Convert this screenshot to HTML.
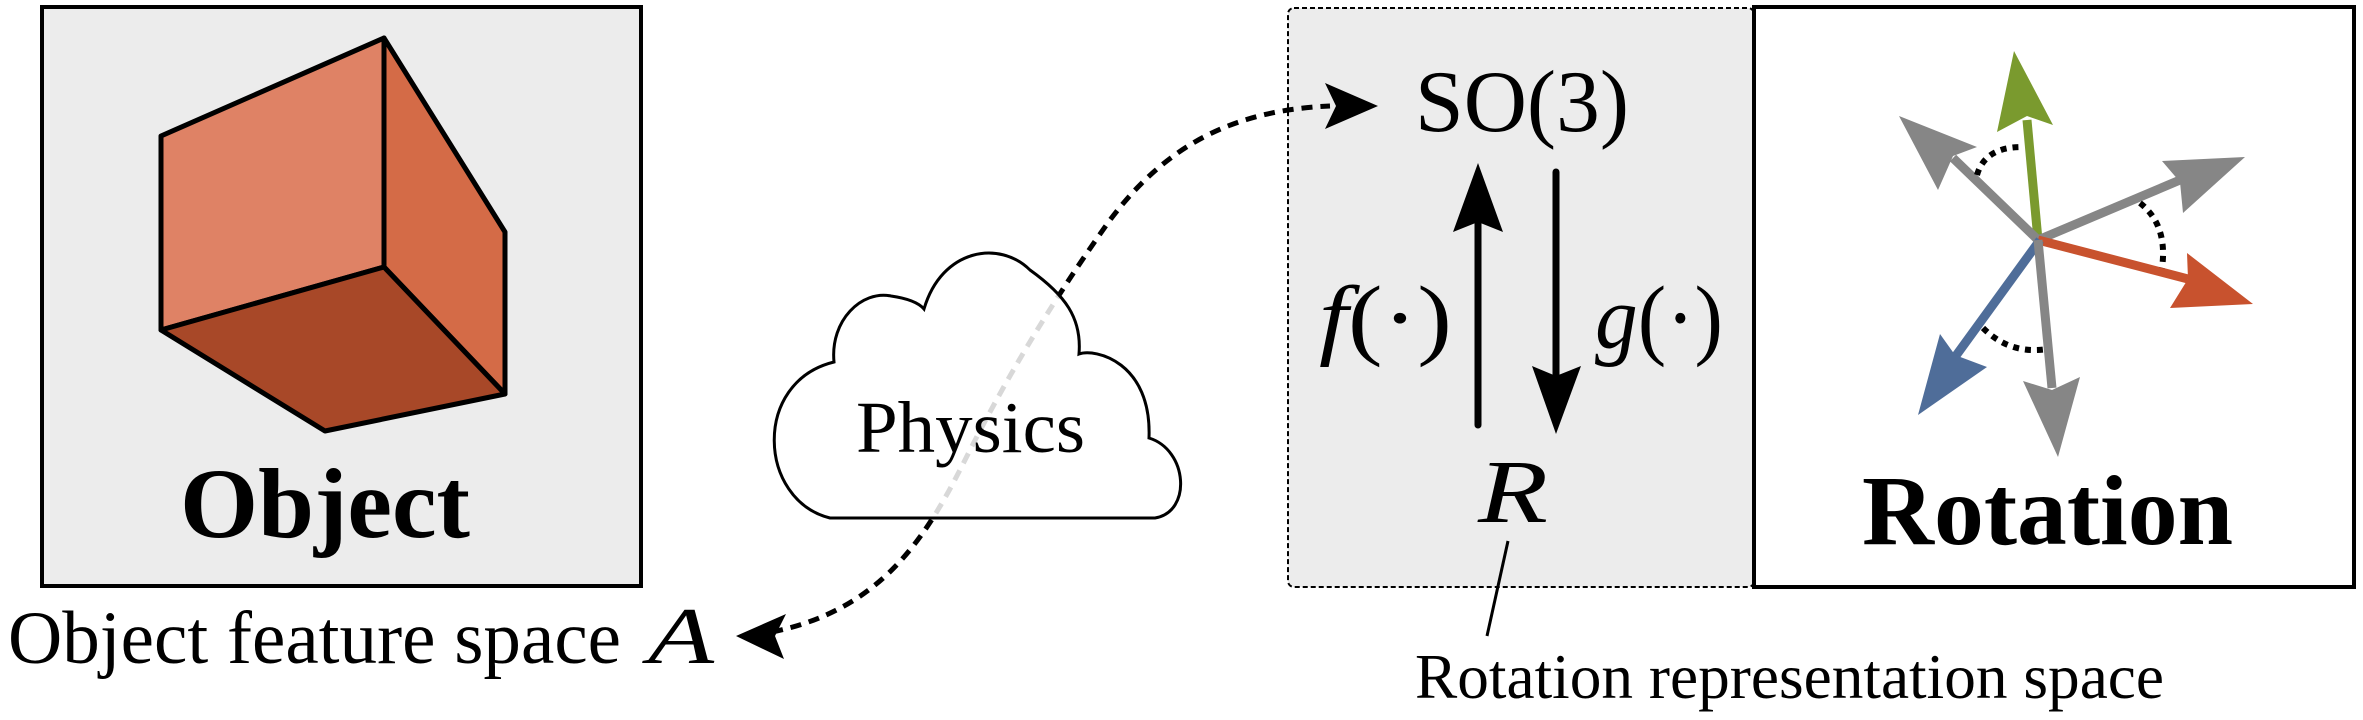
<!DOCTYPE html>
<html><head><meta charset="utf-8"><style>
html,body{margin:0;padding:0;background:#fff;}
svg{display:block}
text{font-family:"Liberation Serif","Times New Roman",Times,serif;}
</style></head><body>
<svg width="2363" height="720" viewBox="0 0 2363 720" xmlns="http://www.w3.org/2000/svg">
<defs>
<clipPath id="cc"><path id="cloudp" d="M830,518 C758,500 752,382 834,362 C830,320 862,290 891,296 C905,298 918,302 924,309 C942,248 1000,240 1030,270 C1065,295 1082,318 1079,354 C1095,348 1152,362 1149,438 C1188,450 1192,512 1155,518 Z"/></clipPath>
</defs>
<rect x="42" y="7" width="599" height="579" fill="#ececec" stroke="#000" stroke-width="4"/>
<polygon points="161,136 384,38 384,267 161,330" fill="#df8265" stroke="#000" stroke-width="5" stroke-linejoin="round"/>
<polygon points="384,38 505,232 505,394 384,267" fill="#d46b47" stroke="#000" stroke-width="5" stroke-linejoin="round"/>
<polygon points="161,330 384,267 505,394 325,431" fill="#a84828" stroke="#000" stroke-width="5" stroke-linejoin="round"/>
<text x="180" y="537" font-size="100" font-weight="bold" textLength="290" lengthAdjust="spacingAndGlyphs">Object</text>
<text x="8" y="663" font-size="75" textLength="613" lengthAdjust="spacingAndGlyphs">Object feature space</text>
<text x="648" y="663" font-size="80" font-style="italic" textLength="66" lengthAdjust="spacingAndGlyphs">A</text>

<rect x="1288" y="8" width="466" height="579" rx="6" fill="#ececec" stroke="#000" stroke-width="2" stroke-dasharray="5 3"/>
<rect x="1754" y="7" width="600" height="580" fill="#fff" stroke="#000" stroke-width="4"/>

<path d="M772,632 C880,610 925,540 965,460 C1010,370 1060,290 1110,220 C1170,140 1240,110 1330,106" fill="none" stroke="#000" stroke-width="5" stroke-dasharray="11 8"/>
<polygon points="736,636 786,614 775,636 784,659" fill="#000"/>
<polygon points="1378,106 1325,83 1336,106 1325,129" fill="#000"/>

<use href="#cloudp" fill="#fff"/>
<g clip-path="url(#cc)"><path d="M772,632 C880,610 925,540 965,460 C1010,370 1060,290 1110,220 C1170,140 1240,110 1330,106" fill="none" stroke="#d8d8d8" stroke-width="5" stroke-dasharray="11 8"/></g>
<use href="#cloudp" fill="none" stroke="#000" stroke-width="3"/>
<text x="856" y="452" font-size="73" textLength="229" lengthAdjust="spacingAndGlyphs">Physics</text>

<text x="1415" y="131" font-size="88" textLength="214" lengthAdjust="spacingAndGlyphs">SO(3)</text>
<line x1="1478" y1="425" x2="1478" y2="220" stroke="#000" stroke-width="7" stroke-linecap="round"/>
<polygon points="1478,163 1503,232 1478,222 1453,232" fill="#000"/>
<line x1="1556" y1="172" x2="1556" y2="380" stroke="#000" stroke-width="7" stroke-linecap="round"/>
<polygon points="1556,434 1581,366 1556,376 1532,366" fill="#000"/>
<text x="1319" y="348" font-size="90" textLength="133" lengthAdjust="spacingAndGlyphs"><tspan font-style="italic">f</tspan>(·)</text>
<text x="1595" y="348" font-size="90" textLength="128" lengthAdjust="spacingAndGlyphs"><tspan font-style="italic">g</tspan>(·)</text>
<text x="1478" y="522" font-size="90" font-style="italic" textLength="70" lengthAdjust="spacingAndGlyphs">R</text>
<line x1="1508" y1="541" x2="1487" y2="636" stroke="#000" stroke-width="3"/>
<text x="1415" y="698" font-size="63" textLength="749" lengthAdjust="spacingAndGlyphs">Rotation representation space</text>

<g stroke-width="9" stroke-linecap="butt">
<line x1="2038" y1="240" x2="2027" y2="120" stroke="#7a9a2e"/>
<line x1="2038" y1="240" x2="1953" y2="158" stroke="#868686"/>
<line x1="2038" y1="240" x2="2180" y2="180" stroke="#868686"/>
<line x1="2038" y1="240" x2="2188" y2="279" stroke="#c8522e"/>
<line x1="2040" y1="240" x2="1955" y2="357" stroke="#4f6d99"/>
<line x1="2038" y1="240" x2="2052" y2="388" stroke="#868686"/>
</g>
<polygon points="2014,51 2053,125 2027,116 1997,132" fill="#7a9a2e"/>
<polygon points="1899,116 1977,147 1953,156 1938,190" fill="#868686"/>
<polygon points="2245,157 2183,213 2180,182 2162,161" fill="#868686"/>
<polygon points="2253,304 2170,308 2188,279 2187,253" fill="#c8522e"/>
<polygon points="1918,415 1940,334 1955,355 1987,367" fill="#4f6d99"/>
<polygon points="2058,457 2023,381 2052,390 2080,377" fill="#868686"/>
<g fill="none" stroke="#000" stroke-width="6" stroke-dasharray="6 6">
<path d="M1977,175 Q1985,147 2022,147"/>
<path d="M2140,203 Q2168,225 2162,268"/>
<path d="M1983,328 Q2010,355 2048,349"/>
</g>
<text x="1862" y="544" font-size="100" font-weight="bold" textLength="371" lengthAdjust="spacingAndGlyphs">Rotation</text>
</svg>
</body></html>
